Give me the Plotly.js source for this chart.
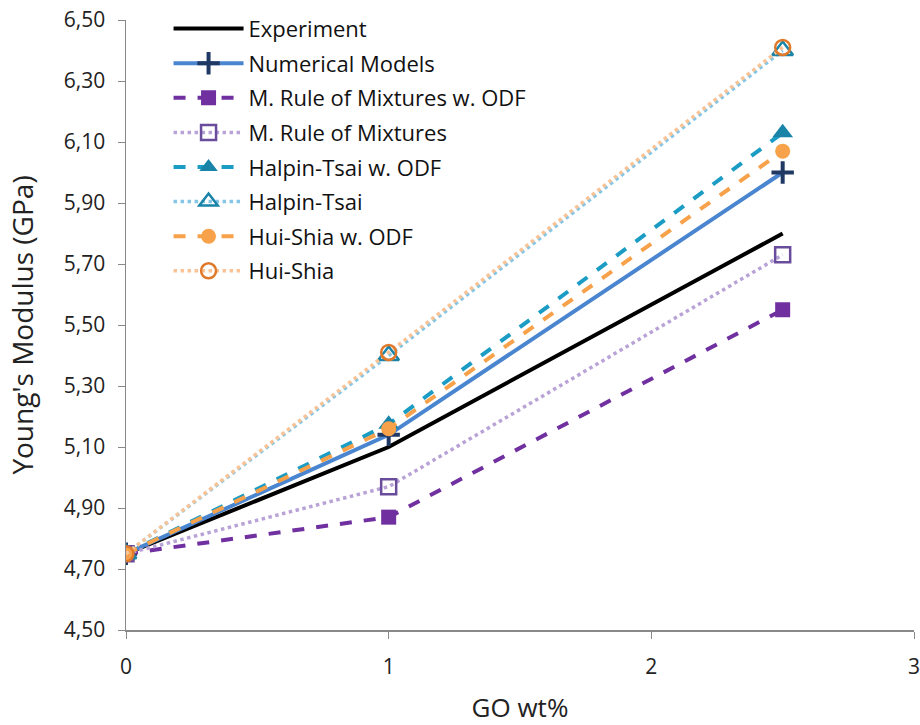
<!DOCTYPE html>
<html><head><meta charset="utf-8">
<script src="https://cdn.plot.ly/plotly-3.0.1.min.js"></script>
<style>body{margin:0;background:#fff}#c{width:920px;height:725px}</style>
</head><body><div id="c"></div>
<script>
var xs = [0, 1, 2.5];
var experiment = [4.75, 5.10, 5.80];
var numerical = [4.75, 5.14, 6.00];
var mromODF = [4.75, 4.87, 5.55];
var mrom = [4.75, 4.97, 5.73];
var htODF = [4.75, 5.175, 6.13];
var ht = [4.75, 5.40, 6.40];
var hsODF = [4.75, 5.16, 6.07];
var hs = [4.75, 5.41, 6.41];
var names = ["Experiment","Numerical Models","M. Rule of Mixtures w. ODF","M. Rule of Mixtures","Halpin-Tsai w. ODF","Halpin-Tsai","Hui-Shia w. ODF","Hui-Shia"];
var yTicks = [4.5,4.7,4.9,5.1,5.3,5.5,5.7,5.9,6.1,6.3,6.5];
var xTicks = [0, 1, 2, 3];

function tr(i, y, line, marker, mode){
  return {x: xs, y: y, name: names[i], legendgroup: 'g' + i, mode: mode || 'lines+markers', line: line, marker: marker};
}
var data = [
  tr(0, experiment, {color:'#000000', width:4}, {}, 'lines'),
  tr(1, numerical, {color:'#4a86d0', width:4}, {symbol:'cross-thin', size:16, line:{color:'#1f3864', width:4}, color:'#1f3864'}),
  tr(2, mromODF, {color:'#7030a0', width:4, dash:'dash'}, {symbol:'square', size:15, color:'#7030a0'}),
  tr(3, mrom, {color:'#b9a3d6', width:3.5, dash:'dot'}, {symbol:'square-open', size:15, color:'#6a4c9c', line:{width:2.5}}),
  tr(4, htODF, {color:'#1a9cc4', width:4, dash:'dash'}, {symbol:'triangle-up', size:18, color:'#1a84a8'}),
  tr(5, ht, {color:'#85c6e6', width:3.5, dash:'dot'}, {symbol:'triangle-up-open', size:18, color:'#1a84a8', line:{width:2.5}}),
  tr(6, hsODF, {color:'#f7a14a', width:4, dash:'dash'}, {symbol:'circle', size:15, color:'#f7a14a'}),
  tr(7, hs, {color:'#f9c396', width:3.5, dash:'dot'}, {symbol:'circle-open', size:15, color:'#e0792a', line:{width:2.5}})
];
var layout = {
  width: 920, height: 725,
  margin: {l:126, r:6, t:20, b:95},
  paper_bgcolor:'#fff', plot_bgcolor:'#fff',
  separators: ',.',
  font: {family:'Open Sans, sans-serif', color:'#222'},
  showlegend: true,
  legend: {x:0.054, y:1.02, xanchor:'left', yanchor:'top', font:{size:22, color:'#111'}, tracegroupgap:3, itemwidth:70, bgcolor:'rgba(0,0,0,0)'},
  xaxis: {range:[0,3], tickvals:xTicks, showgrid:false, zeroline:false, showline:true, linecolor:'#888', linewidth:1.5,
          ticks:'outside', ticklen:7, tickcolor:'#888', tickfont:{size:21, color:'#222'}, ticklabelstandoff:10, ticklabeloverflow:'allow',
          title:{text:'GO wt%', font:{size:26, color:'#222'}, standoff:28}},
  yaxis: {range:[4.5,6.5], tickvals:yTicks, tickformat:'.2f', showgrid:false, zeroline:false, showline:true, linecolor:'#888', linewidth:1.5,
          ticks:'outside', ticklen:7, tickcolor:'#888', tickfont:{size:21, color:'#222'}, ticklabelstandoff:8,
          title:{text:"Young's Modulus (GPa)", font:{size:28, color:'#222'}, standoff:22}}
};
Plotly.newPlot('c', data, layout, {displayModeBar:false, staticPlot:true});
</script></body></html>
